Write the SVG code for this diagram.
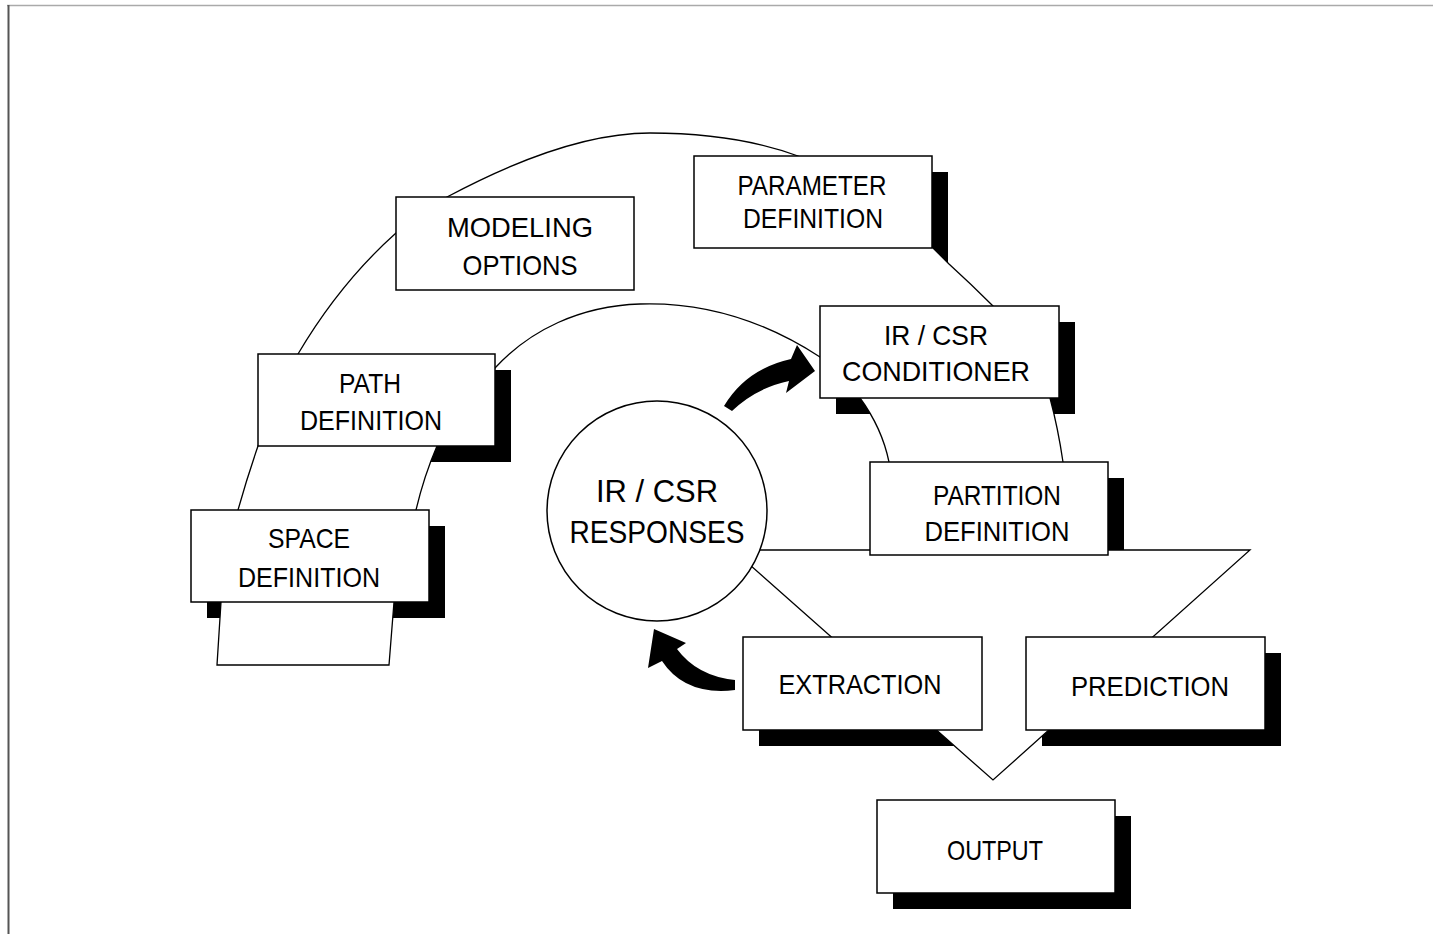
<svg xmlns="http://www.w3.org/2000/svg" width="1433" height="934" viewBox="0 0 1433 934">
<style>
.box{fill:#fff;stroke:#000;stroke-width:1.5}
.sh{fill:#000}
.band{fill:#fff;stroke:#000;stroke-width:1.3;stroke-linejoin:miter}
.arr{fill:#000;stroke:none}
.t{font-family:"Liberation Sans",Arial,sans-serif;font-size:28px;text-anchor:middle;fill:#000}
.tc{font-family:"Liberation Sans",Arial,sans-serif;font-size:31px;text-anchor:middle;fill:#000}
</style>
<rect x="0" y="0" width="1433" height="934" fill="#fff"/>
<g id="frame">
<line x1="7" y1="5.5" x2="1433" y2="5.5" stroke="#aaa" stroke-width="1.5"/>
<line x1="8.5" y1="5" x2="8.5" y2="934" stroke="#555" stroke-width="2"/>
</g>
<g id="shadows">
<rect class="sh" x="710" y="172" width="238" height="92"/>
<rect class="sh" x="274" y="370" width="237" height="92"/>
<rect class="sh" x="207" y="526" width="238" height="92"/>
<rect class="sh" x="836" y="322" width="239" height="92"/>
<rect class="sh" x="886" y="478" width="238" height="93"/>
<rect class="sh" x="759" y="653" width="239" height="93"/>
<rect class="sh" x="1042" y="653" width="239" height="93"/>
<rect class="sh" x="893" y="816" width="238" height="93"/>
</g>
<g id="connectors">
<path id="flow-band" class="band" d="M217,665 L221,602 L238,510 Q247,478 258,446 L298,354 Q340,283 396,233 L447,197 C520,158 590,133 650,133 C710,133 760,142 798,156 L932,247 L949,264 Q971,284 993,306 L1050,398 Q1058,428 1063,462 L1068,550 L1250,550 L993,780 L733,550 L893,550 L889,462 Q882,428 860,398 L820,357 C760,318 700,302 640,304 C580,306 530,330 495,368 L437,446 Q424,476 416,510 L394,602 L389,665 Z"/>
<path id="arrow-to-conditioner" class="arr" d="M724,406 Q746,369 791,359 L797,345 L815,371 L786,393 L789,381 Q756,388 732,411 Z"/>
<path id="arrow-to-responses" class="arr" d="M654,629 L686,643 L677,649 Q697,676 735,680 L735,690 Q685,696 662,661 L648,668 Z"/>
</g>
<g id="node-responses">
<circle class="box" cx="657" cy="511" r="110"/>
<text class="tc" x="657" y="502" textLength="122" lengthAdjust="spacingAndGlyphs">IR / CSR</text>
<text class="tc" x="657" y="543" textLength="175" lengthAdjust="spacingAndGlyphs">RESPONSES</text>
</g>
<g id="node-modeling-options">
<rect class="box" x="396" y="197" width="238" height="93"/>
<text class="t" x="520" y="237" textLength="146" lengthAdjust="spacingAndGlyphs">MODELING</text>
<text class="t" x="520" y="275" textLength="115" lengthAdjust="spacingAndGlyphs">OPTIONS</text>
</g>
<g id="node-parameter-definition">
<rect class="box" x="694" y="156" width="238" height="92"/>
<text class="t" x="812" y="195" textLength="149" lengthAdjust="spacingAndGlyphs">PARAMETER</text>
<text class="t" x="813" y="228" textLength="140" lengthAdjust="spacingAndGlyphs">DEFINITION</text>
</g>
<g id="node-path-definition">
<rect class="box" x="258" y="354" width="237" height="92"/>
<text class="t" x="370" y="393" textLength="62" lengthAdjust="spacingAndGlyphs">PATH</text>
<text class="t" x="371" y="430" textLength="142" lengthAdjust="spacingAndGlyphs">DEFINITION</text>
</g>
<g id="node-space-definition">
<rect class="box" x="191" y="510" width="238" height="92"/>
<text class="t" x="309" y="548" textLength="82" lengthAdjust="spacingAndGlyphs">SPACE</text>
<text class="t" x="309" y="587" textLength="142" lengthAdjust="spacingAndGlyphs">DEFINITION</text>
</g>
<g id="node-conditioner">
<rect class="box" x="820" y="306" width="239" height="92"/>
<text class="t" x="936" y="345" textLength="104" lengthAdjust="spacingAndGlyphs">IR / CSR</text>
<text class="t" x="936" y="381" textLength="188" lengthAdjust="spacingAndGlyphs">CONDITIONER</text>
</g>
<g id="node-partition-definition">
<rect class="box" x="870" y="462" width="238" height="93"/>
<text class="t" x="997" y="505" textLength="128" lengthAdjust="spacingAndGlyphs">PARTITION</text>
<text class="t" x="997" y="541" textLength="145" lengthAdjust="spacingAndGlyphs">DEFINITION</text>
</g>
<g id="node-extraction">
<rect class="box" x="743" y="637" width="239" height="93"/>
<text class="t" x="860" y="694" textLength="163" lengthAdjust="spacingAndGlyphs">EXTRACTION</text>
</g>
<g id="node-prediction">
<rect class="box" x="1026" y="637" width="239" height="93"/>
<text class="t" x="1150" y="696" textLength="158" lengthAdjust="spacingAndGlyphs">PREDICTION</text>
</g>
<g id="node-output">
<rect class="box" x="877" y="800" width="238" height="93"/>
<text class="t" x="995" y="860" textLength="96" lengthAdjust="spacingAndGlyphs">OUTPUT</text>
</g>
</svg>
